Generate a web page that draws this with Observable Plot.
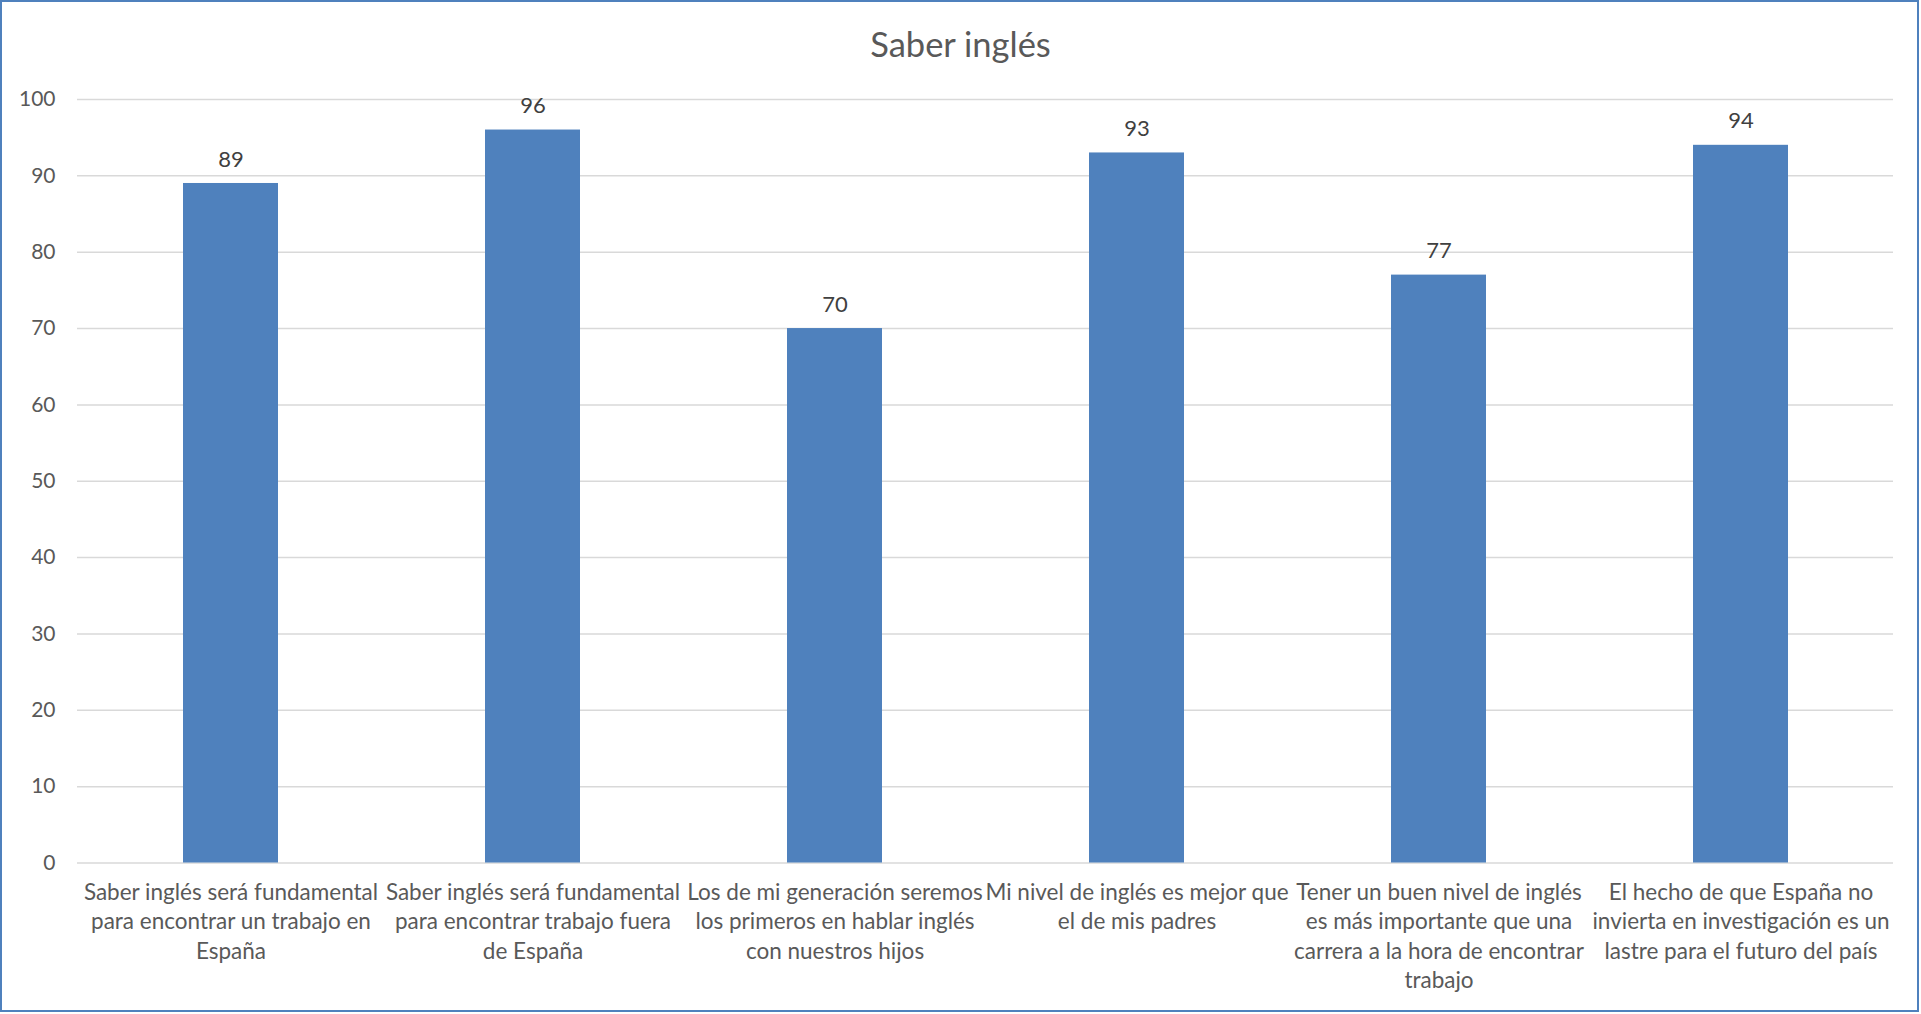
<!DOCTYPE html>
<html>
<head>
<meta charset="utf-8">
<script src="https://cdn.jsdelivr.net/npm/d3@7"></script>
<script src="https://cdn.jsdelivr.net/npm/@observablehq/plot@0.6"></script>
<style>
  html, body { margin: 0; padding: 0; background: #fff; }
  #frame { position: absolute; left: 0; top: 0; width: 1919px; height: 1012px; box-sizing: border-box; border: 2px solid #4F81BD; background: #fff; }
  #title { position: absolute; left: 0; top: 22px; width: 1921px; text-align: center; font-family: Lato, sans-serif; font-size: 34.5px; color: #595959; line-height: 44px; }
  #chart { position: absolute; left: 0; top: 70px; }
</style>
</head>
<body>
<div id="frame"></div>
<div id="title">Saber inglés</div>
<div id="chart"></div>
<script>
const categories = [
  "Saber inglés será fundamental\npara encontrar un trabajo en\nEspaña",
  "Saber inglés será fundamental\npara encontrar trabajo fuera\nde España",
  "Los de mi generación seremos\nlos primeros en hablar inglés\ncon nuestros hijos",
  "Mi nivel de inglés es mejor que\nel de mis padres",
  "Tener un buen nivel de inglés\nes más importante que una\ncarrera a la hora de encontrar\ntrabajo",
  "El hecho de que España no\ninvierta en investigación es un\nlastre para el futuro del país"
];
const values = [89, 96, 70, 93, 77, 94];
const yTicks = [0, 10, 20, 30, 40, 50, 60, 70, 80, 90, 100];

const data = categories.map((c, i) => ({category: c, value: values[i]}));

const font = "Lato, sans-serif";
const chart = Plot.plot({
  width: 1921,
  height: 944,
  marginTop: 29,
  marginBottom: 151.5,
  marginLeft: 77,
  marginRight: 28,
  style: { fontFamily: font, background: "transparent" },
  x: { domain: categories, paddingInner: 0.686, paddingOuter: 0.343, axis: null },
  y: { domain: [0, 100], axis: null },
  marks: [
    Plot.gridY(yTicks, { stroke: "#D9D9D9", strokeOpacity: 1, strokeWidth: 1.5 }),
    Plot.axisY(yTicks, { tickSize: 0, tickPadding: 22, fontSize: 21, fill: "#595959", textAnchor: "end", label: null }),
    Plot.barY(data, { x: "category", y: "value", fill: "#4F81BD" }),
    Plot.text(data, { x: "category", y: "value", text: d => String(d.value), dy: -24, fontSize: 22, fill: "#404040" }),
    Plot.text(categories, { x: d => d, frameAnchor: "bottom", lineAnchor: "top", dy: 16, fontSize: 22.5, lineHeight: 1.307, fill: "#595959" })
  ]
});
document.getElementById("chart").appendChild(chart);
</script>
</body>
</html>
